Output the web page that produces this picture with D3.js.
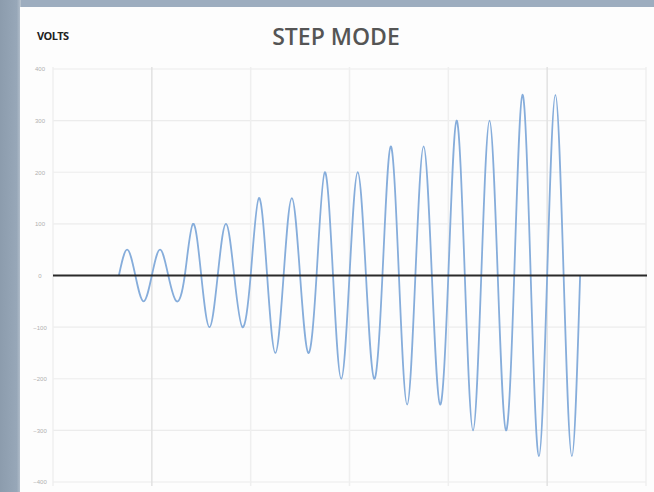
<!DOCTYPE html>
<html><head><meta charset="utf-8">
<script src="https://cdn.jsdelivr.net/npm/d3@7"></script>
<style>
html,body{margin:0;padding:0;background:#fff;}
svg{display:block;}
</style></head>
<body>
<svg id="c" width="654" height="492"></svg>
<script>
// Data: voltage read at each quarter cycle (time step = 0.25 cycle)
const voltages = [
  0, 50, 0, -50,  0, 50, 0, -50,
  0, 100, 0, -100,  0, 100, 0, -100,
  0, 150, 0, -150,  0, 150, 0, -150,
  0, 200, 0, -200,  0, 200, 0, -200,
  0, 250, 0, -250,  0, 250, 0, -250,
  0, 300, 0, -300,  0, 300, 0, -300,
  0, 350, 0, -350,  0, 350, 0, -350,
  0
];
const timeStep = 0.25;
const yTicks = [400, 300, 200, 100, 0, -100, -200, -300, -400];
const xGrid = [-2, 1, 4, 7, 10, 13, 16];
const title = "STEP MODE";
const yLabel = "VOLTS";

const svg = d3.select("#c");
const W = 654, H = 492;

// background frame
const defs = svg.append("defs");
const lg = defs.append("linearGradient").attr("id","lb").attr("x1","0").attr("x2","1");
lg.append("stop").attr("offset","0").attr("stop-color","#8c9cad");
lg.append("stop").attr("offset","0.8").attr("stop-color","#97a7b8");
lg.append("stop").attr("offset","1").attr("stop-color","#b9c4cf");
svg.append("rect").attr("width",W).attr("height",H).attr("fill","#9dadbf");
svg.append("rect").attr("x",0).attr("y",0).attr("width",21).attr("height",H).attr("fill","url(#lb)");
svg.append("rect").attr("x",20).attr("y",7).attr("width",W-20).attr("height",H-7).attr("fill","#fdfdfd");

const x = d3.scaleLinear().domain([-2, 16]).range([53, 646]);
const y = d3.scaleLinear().domain([-400, 400]).range([482, 69]);

// horizontal gridlines
svg.append("g").selectAll("line").data(yTicks).join("line")
  .attr("x1", x(-2)).attr("x2", x(16))
  .attr("y1", d => y(d)).attr("y2", d => y(d))
  .attr("stroke", "#ececec").attr("stroke-width", 1.2);

// vertical gridlines
svg.append("g").selectAll("line").data(xGrid).join("line")
  .attr("x1", d => x(d)).attr("x2", d => x(d))
  .attr("y1", y(400) - 2).attr("y2", y(-400) + 4)
  .attr("stroke", d => (d === 1 || d === 13) ? "#e2e2e2" : "#efefef").attr("stroke-width", 1.5);

// y axis labels
const yAxis = d3.axisLeft(y).tickValues(yTicks).tickSize(0).tickPadding(6);
const ga = svg.append("g").attr("transform", `translate(${x(-2) - 3},0)`).call(yAxis);
ga.select(".domain").remove();
ga.selectAll("text").attr("fill", "#b0b0b0").attr("font-size", 6)
  .attr("font-family", "Liberation Sans, sans-serif").attr("text-anchor", "middle").attr("dx", -4);

// wave
const pts = voltages.map((v, i) => [i * timeStep, v]);
const line = d3.line().x(d => x(d[0])).y(d => y(d[1])).curve(d3.curveNatural);
svg.append("path").datum(pts).attr("d", line)
  .attr("fill", "none").attr("stroke", "#86addb").attr("stroke-width", 1.8);

// zero line
svg.append("line").attr("x1", x(-2)).attr("x2", x(16) + 1)
  .attr("y1", y(0)).attr("y2", y(0))
  .attr("stroke", "#2a2a2a").attr("stroke-width", 2);

// titles
svg.append("text").attr("x", 336).attr("y", 45).attr("text-anchor", "middle")
  .attr("font-family", "Open Sans, sans-serif").attr("font-weight", 600)
  .attr("font-size", 23).attr("fill", "#555").text(title);
svg.append("text").attr("x", 37).attr("y", 40)
  .attr("font-family", "Open Sans, sans-serif").attr("font-weight", 700)
  .attr("font-size", 11).attr("letter-spacing", -0.6).attr("fill", "#222").text(yLabel);
</script>
</body></html>
